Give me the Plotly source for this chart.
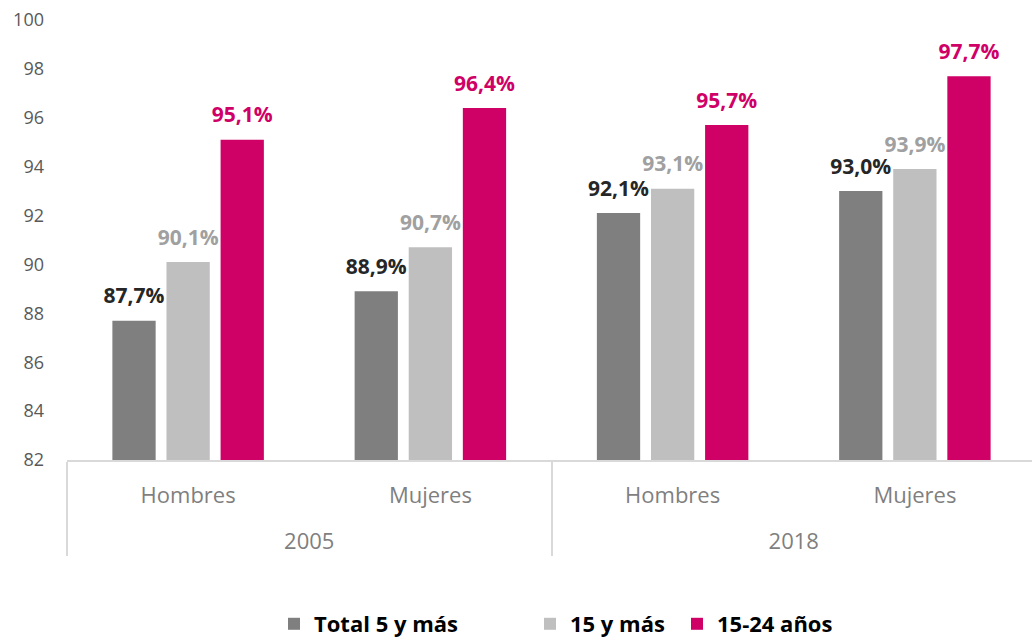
import plotly.graph_objects as go

years = ["2005", "2005", "2018", "2018"]
sexes = ["Hombres", "Mujeres", "Hombres", "Mujeres"]
total_5 = [87.7, 88.9, 92.1, 93.0]
mas_15 = [90.1, 90.7, 93.1, 93.9]
j15_24 = [95.1, 96.4, 95.7, 97.7]
series_names = ["Total 5 y más", "15 y más", "15-24 años"]
bar_colors = ["#7f7f7f", "#bfbfbf", "#cf0066"]
label_colors = ["#262626", "#a0a0a0", "#cf0066"]
y_ticks = [82, 84, 86, 88, 90, 92, 94, 96, 98, 100]

x_cats = [years, [s + "<br>\u00a0" for s in sexes]]
legend_ids = ["legend", "legend2", "legend3"]

fig = go.Figure()
for i, (name, vals, bc) in enumerate(zip(series_names, [total_5, mas_15, j15_24], bar_colors)):
    fig.add_trace(go.Bar(
        x=x_cats, y=vals, name=name, legend=legend_ids[i],
        marker=dict(color=bc, line=dict(width=0)),
    ))
for i, (name, vals, lc) in enumerate(zip(series_names, [total_5, mas_15, j15_24], label_colors)):
    fig.add_trace(go.Scatter(
        x=x_cats, y=vals, name=name, showlegend=False, mode="markers+text",
        marker=dict(size=18, opacity=0, color=lc),
        text=[f"{v:.1f}%".replace(".", ",") for v in vals],
        textposition="top center", cliponaxis=False, hoverinfo="skip",
        textfont=dict(family="Open Sans", size=21, color=lc, weight="bold"),
    ))

leg_font = dict(family="Open Sans", size=22, color="#000000", weight="bold")
leg_common = dict(orientation="h", y=-0.3727, yanchor="middle", xanchor="left",
                  font=leg_font, itemwidth=30, bgcolor="rgba(0,0,0,0)")
fig.update_layout(
    width=1036, height=638,
    margin=dict(l=67, r=0, t=20, b=178, autoexpand=False),
    paper_bgcolor="white", plot_bgcolor="white",
    barmode="group", bargap=0.33, bargroupgap=0.2,
    scattermode="group", scattergap=0.33,
    font=dict(family="Open Sans", color="#595959"),
    showlegend=True,
    legend=dict(x=(274 - 67) / 969, **leg_common),
    legend2=dict(x=(530 - 67) / 969, **leg_common),
    legend3=dict(x=(677 - 67) / 969, **leg_common),
)
fig.update_yaxes(range=[82, 100], tickvals=y_ticks, showgrid=False, zeroline=False,
                 showline=False, tickfont=dict(size=18, color="#595959"), ticks="",
                 ticklabelstandoff=22, automargin=False)
fig.update_xaxes(type="multicategory", showline=True, linecolor="#d9d9d9", linewidth=1.5,
                 showdividers=True, dividercolor="#d9d9d9", dividerwidth=1.5,
                 tickfont=dict(size=22, color="#7f7f7f"), ticks="", showgrid=False,
                 ticklabelstandoff=15, automargin=False)

fig.write_html("out.html", config={"displayModeBar": False},
               post_script="document.body.style.margin='0px';document.body.style.overflow='hidden';")
